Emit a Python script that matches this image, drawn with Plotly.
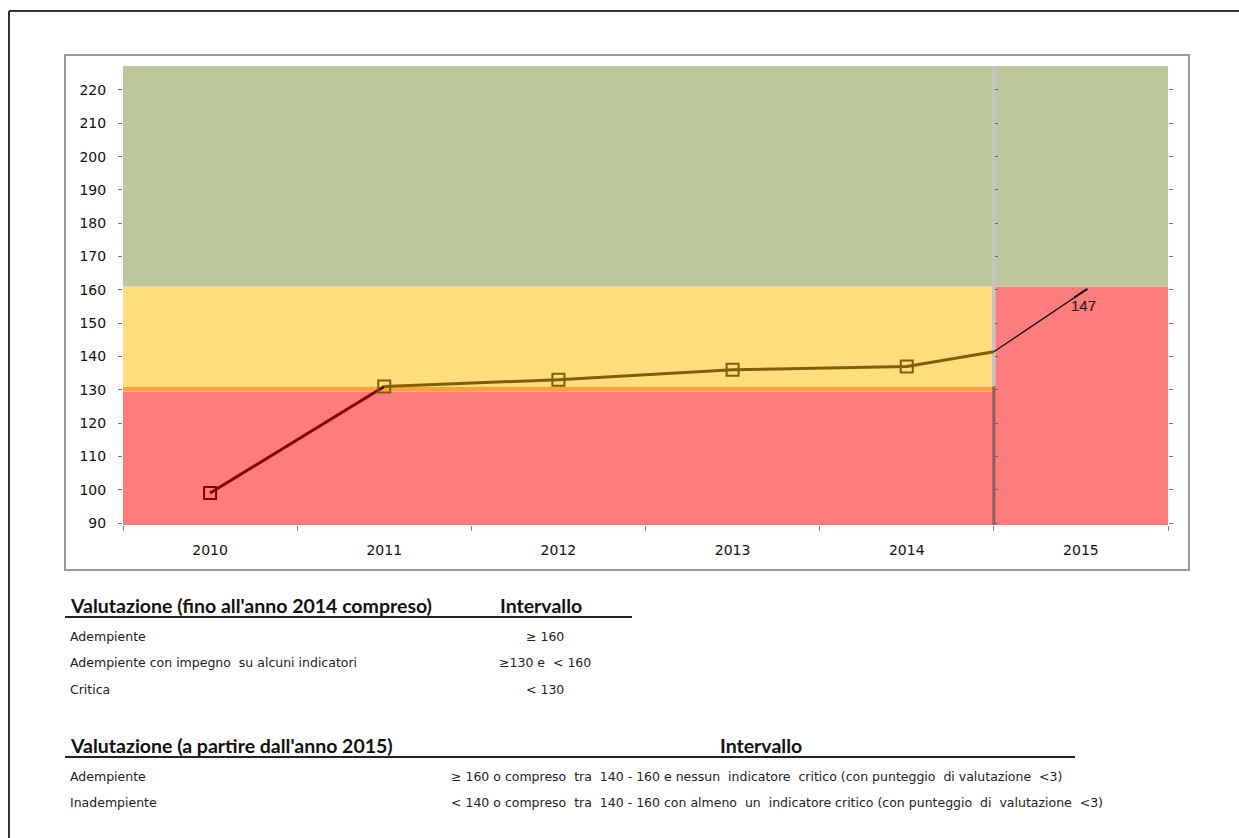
import plotly.graph_objects as go

# ---------------- data ----------------
years = ["2010", "2011", "2012", "2013", "2014", "2015"]
scores_to_2014 = [99, 131, 133, 136, 137]
junction_score = 141.4          # value where the line meets the 2014/2015 divider
score_2015_plotted = 159
label_2015 = "147"

# zones up to 2014 (low, high) and colours
zones_pre_low = [89.4, 129.5, 131, 161]
zones_pre_high = [129.5, 131, 161, 227.2]
zones_pre_colors = ["#FF7C7C", "#FFA03C", "#FFDC7C", "#BCC79C"]
# zones from 2015
zones_post_low = [89.4, 161]
zones_post_high = [161, 227.2]
zones_post_colors = ["#FF7C7C", "#BCC79C"]

y_ticks = list(range(90, 230, 10))

table1_header = ["Valutazione (fino all'anno 2014 compreso)", "Intervallo"]
table1_labels = ["Adempiente", "Adempiente con impegno  su alcuni indicatori", "Critica"]
table1_ranges = ["≥ 160", "≥130 e  < 160", "< 130"]

table2_header = ["Valutazione (a partire dall'anno 2015)", "Intervallo"]
table2_labels = ["Adempiente", "Inadempiente"]
table2_ranges = [
    "≥ 160 o compreso  tra  140 - 160 e nessun  indicatore  critico (con punteggio  di valutazione  <3)",
    "< 140 o compreso  tra  140 - 160 con almeno  un  indicatore critico (con punteggio  di  valutazione  <3)",
]

# ---------------- layout geometry (pixels) ----------------
W, H = 1239, 838
L, R, T, B = 123, 1168, 66, 525


def px(x):
    return (x - L) / (R - L)


def py(y):
    return (B - y) / (B - T)


n = len(years)
xi = list(range(n))
divider = n - 1.5

fig = go.Figure()

shapes = []
for lo, hi, c in zip(zones_pre_low, zones_pre_high, zones_pre_colors):
    shapes.append(dict(type="rect", xref="x", yref="y", x0=-0.5, x1=divider, y0=lo, y1=hi,
                       fillcolor=c, line=dict(width=0), layer="below"))
for lo, hi, c in zip(zones_post_low, zones_post_high, zones_post_colors):
    shapes.append(dict(type="rect", xref="x", yref="y", x0=divider, x1=n - 0.5, y0=lo, y1=hi,
                       fillcolor=c, line=dict(width=0), layer="below"))
# divider line
shapes.append(dict(type="line", xref="x", yref="y", x0=divider, x1=divider,
                   y0=zones_pre_low[2], y1=zones_pre_high[-1],
                   line=dict(color="#C4C4C4", width=4), layer="below"))
shapes.append(dict(type="line", xref="x", yref="y", x0=divider, x1=divider,
                   y0=zones_pre_low[0], y1=zones_pre_low[2],
                   line=dict(color="#866262", width=3), layer="below"))
# inner chart frame
shapes.append(dict(type="rect", xref="paper", yref="paper", x0=px(65), x1=px(1189),
                   y0=py(570), y1=py(55), line=dict(color="#9A9A9A", width=2),
                   fillcolor="rgba(0,0,0,0)", layer="below"))
# outer black frame (top and left)
shapes.append(dict(type="line", xref="paper", yref="paper", x0=px(9), x1=px(1245),
                   y0=py(11), y1=py(11), line=dict(color="#333333", width=2)))
shapes.append(dict(type="line", xref="paper", yref="paper", x0=px(9), x1=px(9),
                   y0=py(11), y1=py(845), line=dict(color="#333333", width=2)))
# table rules
shapes.append(dict(type="line", xref="paper", yref="paper", x0=px(65), x1=px(632),
                   y0=py(617), y1=py(617), line=dict(color="#222222", width=2)))
shapes.append(dict(type="line", xref="paper", yref="paper", x0=px(65), x1=px(1075),
                   y0=py(757), y1=py(757), line=dict(color="#222222", width=2)))

# ---------------- traces ----------------
red_line = "#800000"
olive = "#7F6000"

fig.add_trace(go.Scatter(
    x=xi[0:2], y=scores_to_2014[0:2], mode="lines",
    line=dict(color=red_line, width=3), hoverinfo="skip", showlegend=False))
fig.add_trace(go.Scatter(
    x=xi[1:5] + [divider], y=scores_to_2014[1:5] + [junction_score], mode="lines",
    line=dict(color=olive, width=3), hoverinfo="skip", showlegend=False))
fig.add_trace(go.Scatter(
    x=xi[0:1], y=scores_to_2014[0:1], mode="markers",
    marker=dict(symbol="square-open", size=12, color=red_line, line=dict(width=2)),
    hoverinfo="skip", showlegend=False))
fig.add_trace(go.Scatter(
    x=xi[1:5], y=scores_to_2014[1:5], mode="markers",
    marker=dict(symbol="square-open", size=12, color=olive, line=dict(width=2)),
    hoverinfo="skip", showlegend=False))
fig.add_trace(go.Scatter(
    x=[divider, xi[5]], y=[junction_score, score_2015_plotted], mode="lines",
    line=dict(color="#111111", width=1.3), hoverinfo="skip", showlegend=False,
    yaxis="y2"))
fig.add_trace(go.Scatter(
    x=[xi[5]], y=[score_2015_plotted], mode="markers",
    marker=dict(symbol="line-ne", size=11, angle=12, line=dict(color="#111111", width=2)),
    hoverinfo="skip", showlegend=False, yaxis="y2"))

# ---------------- annotations (tables) ----------------
ann = []
hdr_font = dict(family="Lato", size=19.5, color="#111111")
row_font = dict(family="DejaVu Sans", size=12.5, color="#222222")

ann.append(dict(text=label_2015, x=xi[5], y=score_2015_plotted, xref="x", yref="y",
                xanchor="center", yanchor="top", xshift=3, yshift=-2, showarrow=False,
                font=dict(family="Liberation Sans", size=15, color="#111111")))

tab = []
tab.append(dict(text="<b>" + table1_header[0] + "</b>", x=px(68), y=py(605), xanchor="left",
                yanchor="middle", font=hdr_font))
tab.append(dict(text="<b>" + table1_header[1] + "</b>", x=px(541), y=py(605), xanchor="center",
                yanchor="middle", font=hdr_font))
for i, (lab, rng) in enumerate(zip(table1_labels, table1_ranges)):
    yy = 636 + i * 26.5
    tab.append(dict(text=lab, x=px(68), y=py(yy), xanchor="left", yanchor="middle", font=row_font))
    tab.append(dict(text=rng, x=px(545), y=py(yy), xanchor="center", yanchor="middle", font=row_font))

tab.append(dict(text="<b>" + table2_header[0] + "</b>", x=px(68), y=py(745), xanchor="left",
                yanchor="middle", font=hdr_font))
tab.append(dict(text="<b>" + table2_header[1] + "</b>", x=px(761), y=py(745), xanchor="center",
                yanchor="middle", font=hdr_font))
for i, (lab, rng) in enumerate(zip(table2_labels, table2_ranges)):
    yy = 776 + i * 26
    tab.append(dict(text=lab, x=px(68), y=py(yy), xanchor="left", yanchor="middle", font=row_font))
    tab.append(dict(text=rng, x=px(449), y=py(yy), xanchor="left", yanchor="middle", font=row_font))

for a in tab:
    a.update(xref="paper", yref="paper", showarrow=False)
ann += tab

yrange = [zones_pre_low[0], zones_pre_high[-1]]

fig.update_layout(
    width=W, height=H, autosize=False,
    margin=dict(l=L, r=W - R, t=T, b=H - B, pad=0),
    paper_bgcolor="white", plot_bgcolor="white",
    shapes=shapes, annotations=ann,
    xaxis=dict(
        range=[-0.5, n - 0.5], tickvals=xi, ticktext=years, ticks="",
        showgrid=False, zeroline=False, showline=False, fixedrange=True,
        tickfont=dict(family="DejaVu Sans", size=14, color="#111111"),
        ticklabelstandoff=15,
        minor=dict(tickvals=[i - 0.5 for i in range(n + 1)], ticks="outside", ticklen=5,
                   tickcolor="#888888", tickwidth=1, showgrid=False),
    ),
    yaxis=dict(
        range=yrange, tickvals=y_ticks, ticks="outside", ticklen=4, tickcolor="#777777",
        showgrid=False, zeroline=False, showline=False, mirror="ticks", fixedrange=True,
        tickfont=dict(family="DejaVu Sans", size=14, color="#111111"),
        ticklabelstandoff=9,
    ),
    yaxis2=dict(
        range=yrange, overlaying="y", anchor="free", position=px(994), side="right",
        tickvals=y_ticks, ticks="outside", ticklen=3, tickcolor="#666666",
        showticklabels=False, showgrid=False, zeroline=False, showline=False, fixedrange=True,
    ),
)

fig.write_html("out.html", config={"displayModeBar": False},
               post_script="document.body.style.margin='0';document.body.style.overflow='hidden';")
